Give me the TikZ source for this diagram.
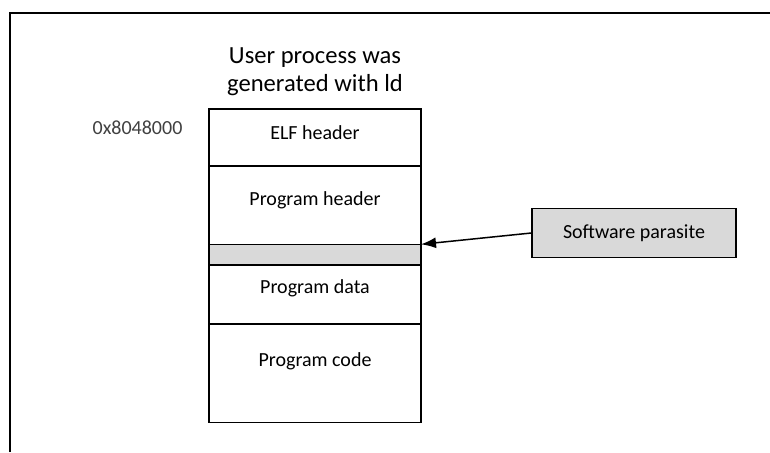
\documentclass[tikz,border=0pt]{standalone}
\usepackage{fontspec}
\setmainfont{Carlito}
\usetikzlibrary{positioning,arrows.meta}
\definecolor{bandgray}{HTML}{D9D9D9}
\definecolor{addrgray}{HTML}{404040}
\begin{document}
\begin{tikzpicture}[x=0.5pt,y=-0.5pt,
    seg/.style={draw,line width=0.7pt,rectangle,inner sep=0pt,outer sep=0pt,
      minimum width=106pt},
    txt/.style={font=\fontsize{10}{12}\selectfont},
    frame/.style={line width=0.8pt}]
    \useasboundingbox (0,0) rectangle (770,452);
    % set coordinates
    \coordinate (F) at (10,452);
    \coordinate (G) at (10,13);
    \coordinate (H) at (770,13);
    \coordinate (T) at (209,109);
    % draw figure
    \draw [frame] (F) -- (G) -- (H);
    \node (elf) [seg,anchor=north west,minimum height=28.5pt] at (T) {};
    \node (phdr) [seg,below=0pt of elf,minimum height=39.15pt] {};
    \node (band) [seg,below=0pt of phdr,minimum height=10.35pt,fill=bandgray] {};
    \node (pdata) [seg,below=0pt of band,minimum height=29.5pt] {};
    \node (pcode) [seg,below=0pt of pdata,minimum height=49.35pt] {};
    \node (parasite) [draw,line width=0.7pt,fill=bandgray,inner sep=0pt,
      minimum width=102pt,minimum height=24.7pt,txt] at (634,233) {Software parasite};
    \draw [line width=0.75pt,-{Latex[length=7.5pt,width=5.5pt]}] (parasite.west) -- (band.north east);
    % add labels
    \node (title) [align=center,font=\fontsize{12.3}{14}\selectfont] at (315,72)
      {User process was\\generated with ld};
    \node (addr) [txt,text=addrgray] at (137.5,128) {0x8048000};
    \node (elftxt) [txt] at (315,133) {ELF header};
    \node (phdrtxt) [txt] at (315,200) {Program header};
    \node (pdatatxt) [txt] at (315,288) {Program data};
    \node (pcodetxt) [txt] at (315,361) {Program code};
\end{tikzpicture}
\end{document}
